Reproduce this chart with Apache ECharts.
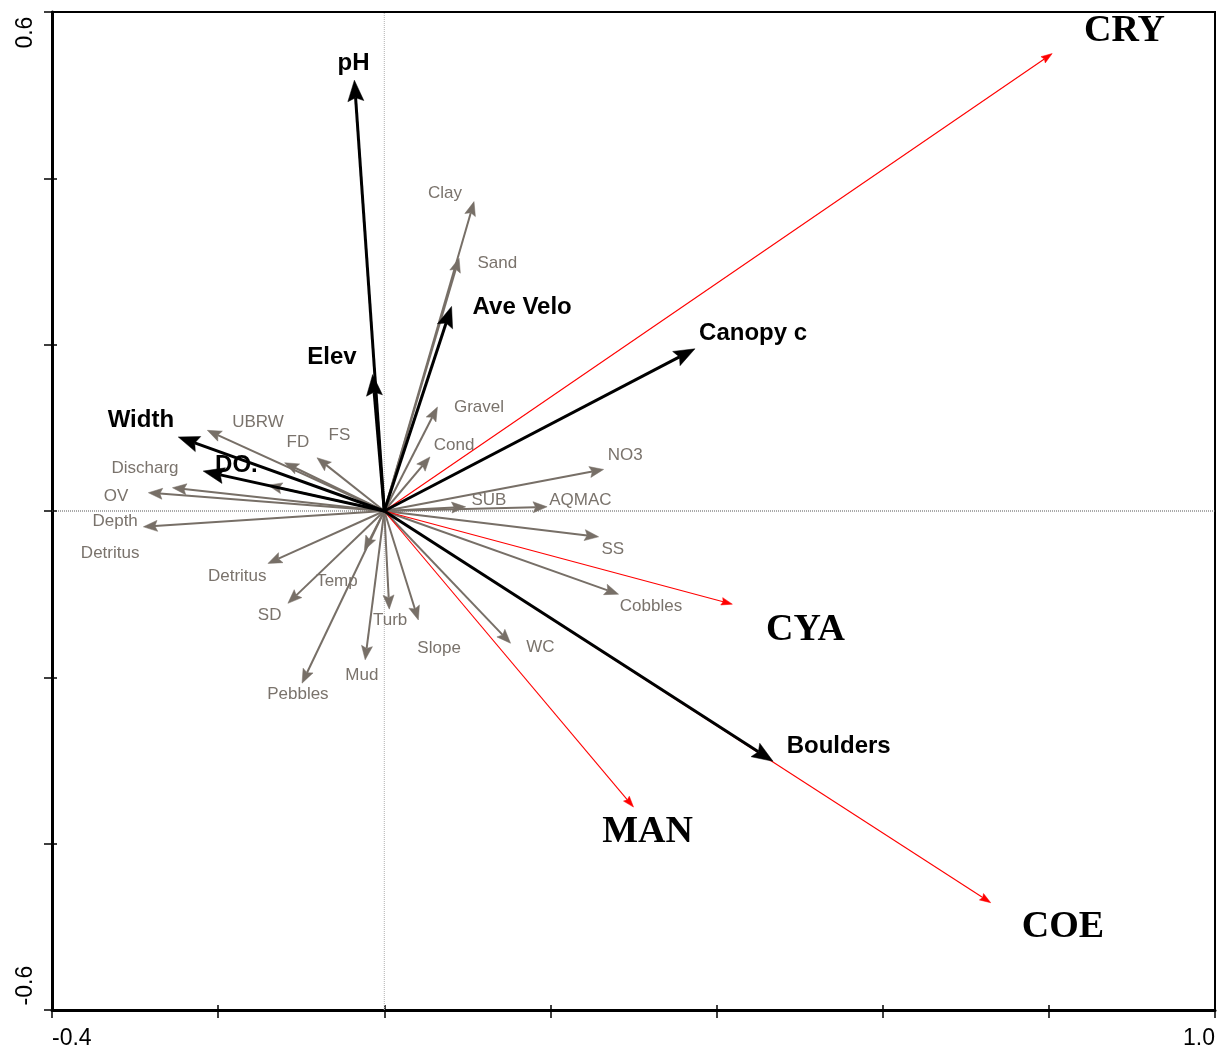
<!DOCTYPE html>
<html><head><meta charset="utf-8">
<script src="https://cdn.jsdelivr.net/npm/echarts@6/dist/echarts.min.js"></script>
<style>html,body{margin:0;padding:0;background:#fff}#c{width:1220px;height:1048px}</style>
</head><body><div id="c"></div>
<script>
// ---- Environmental variables (gray vectors) ----
const grayNames = ['Clay','Sand','Gravel','Cond','NO3','SUB','AQMAC','SS','Cobbles','WC','Slope','Turb','Mud','Pebbles','SD','Temp','Detritus','Depth','OV','Discharg','Detritus','UBRW','FD','FS'];
const grayX = [0.108, 0.090, 0.064, 0.055, 0.264, 0.098, 0.196, 0.258, 0.282, 0.152, 0.041, 0.006, -0.023, -0.099, -0.116, -0.024, -0.140, -0.290, -0.284, -0.255, -0.140, -0.213, -0.120, -0.081];
const grayY = [0.372, 0.304, 0.125, 0.065, 0.050, 0.005, 0.005, -0.031, -0.100, -0.159, -0.131, -0.118, -0.179, -0.207, -0.111, -0.047, -0.063, -0.019, 0.022, 0.028, 0.031, 0.097, 0.058, 0.064];
const grayLabelX = [0.073, 0.136, 0.114, 0.084, 0.290, 0.126, 0.236, 0.275, 0.321, 0.188, 0.066, 0.007, -0.027, -0.104, -0.138, -0.057, -0.177, -0.324, -0.323, -0.288, -0.330, -0.152, -0.104, -0.054];
const grayLabelY = [0.382, 0.298, 0.125, 0.079, 0.067, 0.013, 0.013, -0.046, -0.115, -0.164, -0.165, -0.132, -0.197, -0.220, -0.125, -0.084, -0.079, -0.012, 0.018, 0.051, -0.051, 0.107, 0.082, 0.091];

// ---- Significant variables (black vectors) ----
const blackNames = ['pH','Elev','Ave Velo','Canopy c','Width','DO.','Boulders'];
const blackX = [-0.036, -0.014, 0.081, 0.374, -0.248, -0.218, 0.468];
const blackY = [0.518, 0.164, 0.246, 0.195, 0.089, 0.048, -0.301];
const blackLabelX = [-0.037, -0.063, 0.166, 0.444, -0.293, -0.178, 0.547];
const blackLabelY = [0.538, 0.185, 0.245, 0.214, 0.109, 0.055, -0.283];

// ---- Species (red vectors) ----
const speciesNames = ['CRY','CYA','MAN','COE'];
const speciesX = [0.804, 0.419, 0.300, 0.730];
const speciesY = [0.550, -0.112, -0.356, -0.471];
const speciesLabelX = [0.891, 0.507, 0.317, 0.817];
const speciesLabelY = [0.577, -0.143, -0.386, -0.501];

// ---- Axes ----
const xMin = -0.4, xMax = 1.0, yMin = -0.6, yMax = 0.6, tickStep = 0.2;
const xTickLabels = ['-0.4', '1.0'];
const yTickLabels = ['-0.6', '0.6'];

const zip = (a, b) => a.map((v, i) => [v, b[i]]);

function arrowRender(color, lw, len, hw, notch) {
  return function (params, api) {
    const o = api.coord([0, 0]);
    const t = api.coord([api.value(0), api.value(1)]);
    const dx = t[0] - o[0], dy = t[1] - o[1];
    const L = Math.hypot(dx, dy) || 1;
    const ux = dx / L, uy = dy / L, px = -uy, py = ux;
    const bx = t[0] - ux * len, by = t[1] - uy * len;
    const nx = t[0] - ux * (len - notch), ny = t[1] - uy * (len - notch);
    return {
      type: 'group',
      children: [
        { type: 'line', shape: { x1: o[0], y1: o[1], x2: nx, y2: ny }, style: { stroke: color, lineWidth: lw } },
        { type: 'polygon', shape: { points: [[t[0], t[1]], [bx + px * hw, by + py * hw], [nx, ny], [bx - px * hw, by - py * hw]] }, style: { fill: color, stroke: color, lineWidth: 0.5 } }
      ]
    };
  };
}

function labelRender(names, font, color) {
  return function (params, api) {
    const p = api.coord([api.value(0), api.value(1)]);
    return {
      type: 'text', x: p[0], y: p[1],
      style: { text: names[params.dataIndex], font: font, fill: color, align: 'center', verticalAlign: 'middle' }
    };
  };
}

const GRAY = '#776f67';
const GRAYTXT = '#7a736c';
const SANS = "'Liberation Sans', Arial, sans-serif";
const SERIF = "'Liberation Serif', 'Times New Roman', serif";

const xFmt = (v) => {
  const s = (Math.abs(v) < 1e-9 ? 0 : v).toFixed(1);
  return xTickLabels.indexOf(s) >= 0 ? s : '';
};
const yFmt = (v) => {
  const s = (Math.abs(v) < 1e-9 ? 0 : v).toFixed(1);
  if (yTickLabels.indexOf(s) < 0) return '';
  return v < 0 ? '\u2009' + s : s + '\u2009';
};

const baseX = {
  type: 'value', min: xMin, max: xMax, interval: tickStep, position: 'bottom',
  splitLine: { show: false }
};
const baseY = {
  type: 'value', min: yMin, max: yMax, interval: tickStep, position: 'left',
  splitLine: { show: false }
};

const option = {
  animation: false,
  backgroundColor: '#fff',
  grid: { left: 52, right: 5, top: 12, bottom: 38, show: true, borderColor: '#000', borderWidth: 2, containLabel: false, outerBoundsMode: 'none' },
  xAxis: [
    Object.assign({}, baseX, {
      axisLine: { show: true, onZero: false, lineStyle: { color: '#000', width: 3 } },
      axisTick: { show: true, inside: false, length: 8, lineStyle: { color: '#000', width: 1.5 } },
      axisLabel: { show: true, margin: 17, fontSize: 23, fontFamily: SANS, color: '#000', formatter: xFmt, showMinLabel: true, showMaxLabel: true, alignMinLabel: 'left', alignMaxLabel: 'right' }
    }),
    Object.assign({}, baseX, {
      axisLine: { show: false, onZero: false },
      axisTick: { show: true, inside: true, length: 5, lineStyle: { color: '#000', width: 1.5 } },
      axisLabel: { show: false }
    })
  ],
  yAxis: [
    Object.assign({}, baseY, {
      axisLine: { show: true, onZero: false, lineStyle: { color: '#000', width: 3 } },
      axisTick: { show: true, inside: false, length: 8, lineStyle: { color: '#000', width: 1.5 } },
      axisLabel: { show: true, margin: 15, rotate: 90, fontSize: 23, fontFamily: SANS, color: '#000', formatter: yFmt, showMinLabel: true, showMaxLabel: true, alignMinLabel: 'left', alignMaxLabel: 'right' }
    }),
    Object.assign({}, baseY, {
      axisLine: { show: false, onZero: false },
      axisTick: { show: true, inside: true, length: 5, lineStyle: { color: '#000', width: 1.5 } },
      axisLabel: { show: false }
    })
  ],
  series: [
    { type: 'line', data: [[0, yMin], [0, yMax]], showSymbol: false, silent: true, lineStyle: { color: '#b0b0b0', width: 1, type: 'dotted' }, z: 1 },
    { type: 'line', data: [[xMin, 0], [xMax, 0]], showSymbol: false, silent: true, lineStyle: { color: '#555555', width: 1, type: 'dotted' }, z: 1 },
    { type: 'custom', renderItem: arrowRender(GRAY, 2, 14, 5.5, 2.5), data: zip(grayX, grayY), z: 2, silent: true },
    { type: 'custom', renderItem: arrowRender('#ff0000', 1.1, 11, 3.8, 1.5), data: zip(speciesX, speciesY), z: 3, silent: true },
    { type: 'custom', renderItem: arrowRender('#000000', 3, 21, 8, 3.5), data: zip(blackX, blackY), z: 4, silent: true },
    { type: 'custom', renderItem: labelRender(grayNames, '17px ' + SANS, GRAYTXT), data: zip(grayLabelX, grayLabelY), z: 5, silent: true },
    { type: 'custom', renderItem: labelRender(blackNames, 'bold 24px ' + SANS, '#000'), data: zip(blackLabelX, blackLabelY), z: 6, silent: true },
    { type: 'custom', renderItem: labelRender(speciesNames, 'bold 38px ' + SERIF, '#000'), data: zip(speciesLabelX, speciesLabelY), z: 6, silent: true }
  ]
};

echarts.init(document.getElementById('c'), null, { renderer: 'canvas' }).setOption(option);
</script>
</body></html>
